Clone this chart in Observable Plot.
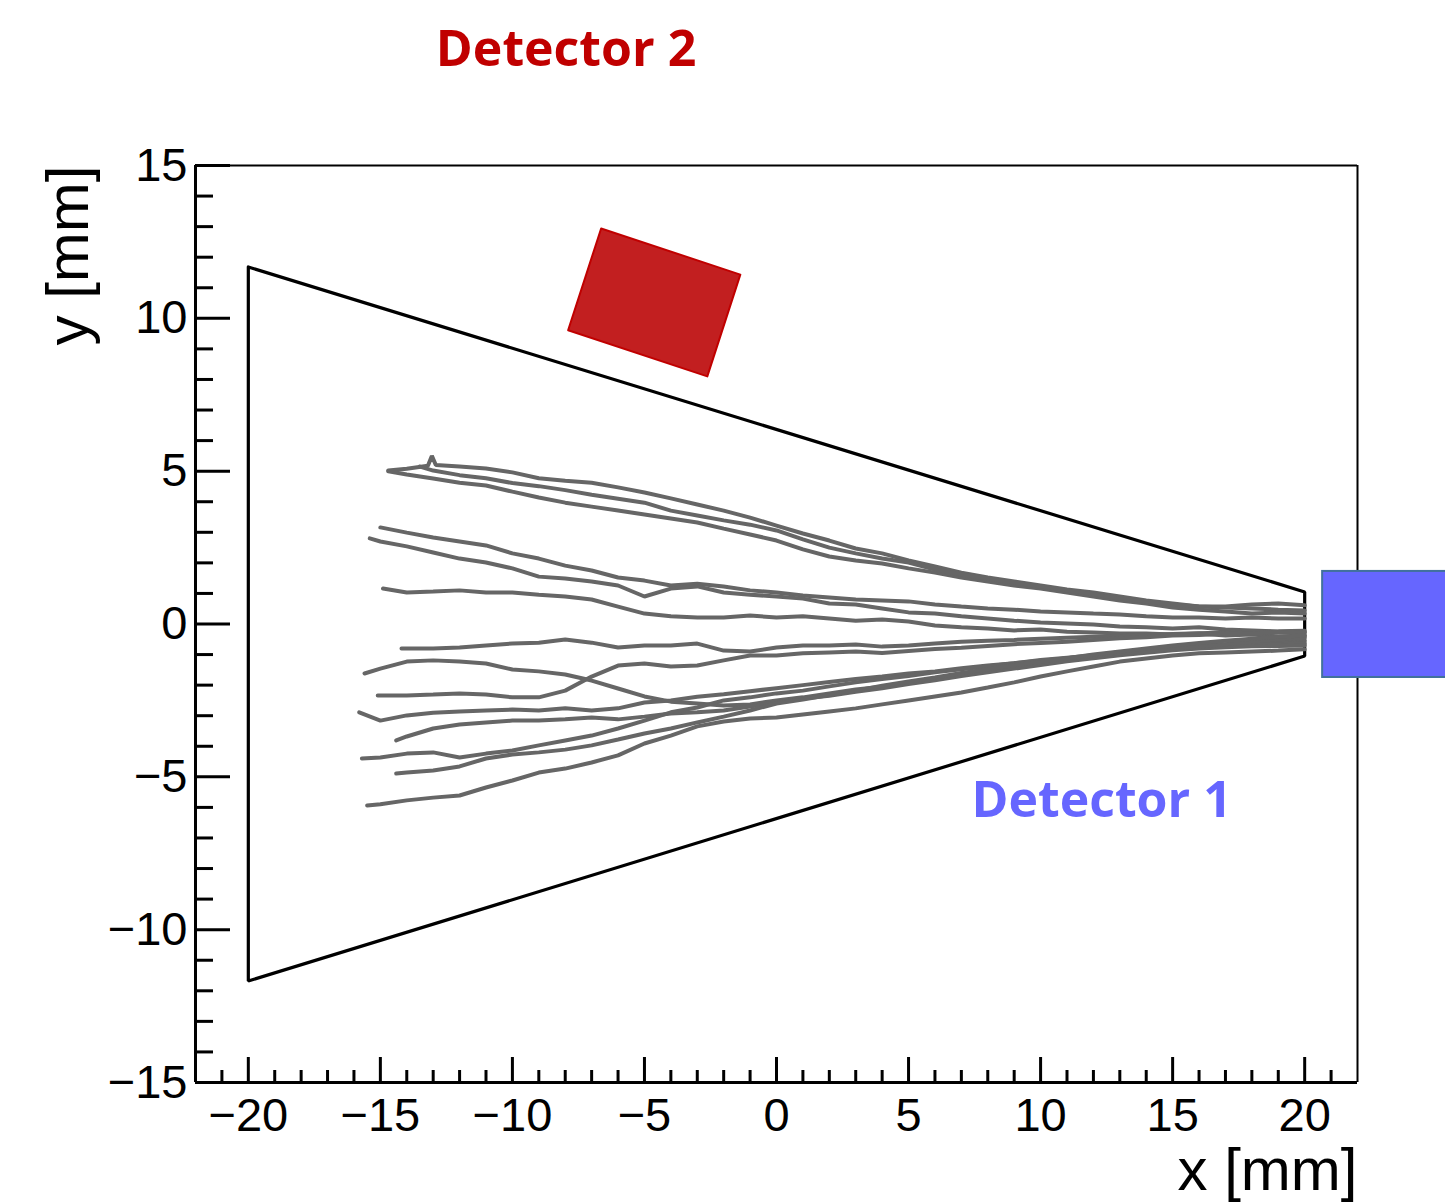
<!DOCTYPE html>
<html>
<head>
<meta charset="utf-8">
<script src="https://cdn.jsdelivr.net/npm/d3@7"></script>
<script src="https://cdn.jsdelivr.net/npm/@observablehq/plot@0.6"></script>
<style>
html, body { margin: 0; padding: 0; background: #ffffff; overflow: hidden; }
#chart svg { display: block; }
</style>
</head>
<body>
<div id="chart"></div>
<script>
// ---- axes ----
const xDomain = [-22, 22];
const yDomain = [-15, 15];
const xMajorTicks = [-20, -15, -10, -5, 0, 5, 10, 15, 20];
const xMinorTicks = [-21, -19, -18, -17, -16, -14, -13, -12, -11, -9, -8, -7, -6, -4, -3, -2, -1,
                     1, 2, 3, 4, 6, 7, 8, 9, 11, 12, 13, 14, 16, 17, 18, 19, 21];
const yMajorTicks = [-15, -10, -5, 0, 5, 10, 15];
const yMinorTicks = [-14, -13, -12, -11, -9, -8, -7, -6, -4, -3, -2, -1,
                     1, 2, 3, 4, 6, 7, 8, 9, 11, 12, 13, 14];
const xTitle = "x [mm]";
const yTitle = "y [mm]";

// ---- geometry (mm) ----
const coneOutline = [[-20, 11.68], [20, 1.05], [20, -1.05], [-20, -11.68], [-20, 11.68]];
const detector2Corners = [[-6.64, 12.94], [-1.37, 11.43], [-2.62, 8.10], [-7.89, 9.61], [-6.64, 12.94]];
const detector1Box = [{x1: 20.68, x2: 26, y1: -1.75, y2: 1.72}];
const annotations = [
  {label: "Detector 2", x: -12.9, y: 18.27, color: "#c00000"},
  {label: "Detector 1", x: 7.38, y: -6.33, color: "#6666ff"}
];

// ---- tracks (x mm, y mm) ----
const trackU1 = [[-14.7,5.02],[-14,5.08],[-13.2,5.18],[-13.05,5.5],[-12.9,5.2],[-12,5.15],[-11,5.09],[-10,4.96],[-9,4.77],[-8,4.69],[-7,4.62],[-6,4.47],[-5,4.30],[-4,4.11],[-3,3.91],[-2,3.71],[-1,3.48],[0,3.22],[1,2.96],[2,2.73],[3,2.47],[4,2.31],[5,2.08],[6,1.88],[7,1.68],[8,1.52],[9,1.39],[10,1.26],[11,1.13],[12,1.03],[13,0.90],[14,0.77],[15,0.67],[16,0.57],[17,0.54],[18,0.51],[19,0.47],[20,0.44]];
const trackU2 = [[-14.7,5.0],[-14,4.89],[-13,4.76],[-12,4.62],[-11,4.53],[-10,4.33],[-9,4.14],[-8,3.97],[-7,3.84],[-6,3.71],[-5,3.58],[-4,3.45],[-3,3.32],[-2,3.12],[-1,2.93],[0,2.73],[1,2.44],[2,2.21],[3,2.08],[4,1.98],[5,1.82],[6,1.68],[7,1.52],[8,1.39],[9,1.26],[10,1.16],[11,1.03],[12,0.90],[13,0.77],[14,0.67],[15,0.54],[16,0.47],[17,0.41],[18,0.34],[19,0.38],[20,0.34]];
const trackU3 = [[-13.5,5.15],[-13,5.02],[-12,4.87],[-11,4.77],[-10,4.61],[-9,4.51],[-8,4.38],[-7,4.23],[-6,4.10],[-5,3.97],[-4,3.71],[-3,3.55],[-2,3.39],[-1,3.25],[0,3.06],[1,2.77],[2,2.50],[3,2.31],[4,2.14],[5,2.01],[6,1.78],[7,1.62],[8,1.49],[9,1.36],[10,1.23],[11,1.10],[12,0.97],[13,0.83],[14,0.74],[15,0.64],[16,0.57],[17,0.57],[18,0.64],[19,0.67],[20,0.61]];
const trackM1 = [[-15,3.16],[-14,2.99],[-13,2.83],[-12,2.70],[-11,2.57],[-10,2.31],[-9,2.14],[-8,1.91],[-7,1.75],[-6,1.52],[-5,1.42],[-4,1.26],[-3,1.32],[-2,1.23],[-1,1.10],[0,1.03],[1,0.93],[2,0.87],[3,0.80],[4,0.77],[5,0.74],[6,0.64],[7,0.57],[8,0.51],[9,0.47],[10,0.41],[11,0.38],[12,0.34],[13,0.31],[14,0.25],[15,0.21],[16,0.21],[17,0.18],[18,0.21],[19,0.18],[20,0.18]];
const trackM2 = [[-15.4,2.80],[-15,2.70],[-14,2.54],[-13,2.34],[-12,2.14],[-11,2.01],[-10,1.82],[-9,1.55],[-8,1.49],[-7,1.39],[-6,1.26],[-5,0.90],[-4,1.16],[-3,1.23],[-2,1.03],[-1,0.96],[0,0.90],[1,0.83],[2,0.67],[3,0.64],[4,0.51],[5,0.38],[6,0.34],[7,0.25],[8,0.18],[9,0.11],[10,0.05],[11,0.02],[12,-0.02],[13,-0.08],[14,-0.11],[15,-0.15],[16,-0.11],[17,-0.18],[18,-0.21],[19,-0.25],[20,-0.28]];
const trackM3 = [[-14.9,1.16],[-14,1.03],[-13,1.06],[-12,1.10],[-11,1.03],[-10,1.03],[-9,0.96],[-8,0.90],[-7,0.80],[-6,0.57],[-5,0.34],[-4,0.25],[-3,0.21],[-2,0.21],[-1,0.28],[0,0.21],[1,0.25],[2,0.18],[3,0.11],[4,0.15],[5,0.08],[6,-0.05],[7,-0.11],[8,-0.15],[9,-0.21],[10,-0.18],[11,-0.25],[12,-0.28],[13,-0.31],[14,-0.31],[15,-0.34],[16,-0.31],[17,-0.38],[18,-0.34],[19,-0.41],[20,-0.38]];
const trackL1 = [[-14.2,-0.80],[-13,-0.80],[-12,-0.77],[-11,-0.70],[-10,-0.64],[-9,-0.61],[-8,-0.51],[-7,-0.61],[-6,-0.77],[-5,-0.70],[-4,-0.70],[-3,-0.64],[-2,-0.87],[-1,-0.90],[0,-0.77],[1,-0.70],[2,-0.70],[3,-0.67],[4,-0.74],[5,-0.70],[6,-0.64],[7,-0.58],[8,-0.55],[9,-0.52],[10,-0.48],[11,-0.45],[12,-0.42],[13,-0.40],[14,-0.36],[15,-0.33],[16,-0.30],[17,-0.28],[18,-0.25],[19,-0.24],[20,-0.22]];
const trackL2 = [[-15.6,-1.62],[-15,-1.46],[-14,-1.23],[-13,-1.19],[-12,-1.23],[-11,-1.29],[-10,-1.49],[-9,-1.55],[-8,-1.65],[-7,-1.85],[-6,-2.11],[-5,-2.37],[-4,-2.54],[-3,-2.60],[-2,-2.67],[-1,-2.63],[0,-2.50],[1,-2.40],[2,-2.27],[3,-2.14],[4,-2.05],[5,-1.93],[6,-1.80],[7,-1.66],[8,-1.52],[9,-1.40],[10,-1.26],[11,-1.15],[12,-1.02],[13,-0.92],[14,-0.84],[15,-0.76],[16,-0.70],[17,-0.66],[18,-0.60],[19,-0.58],[20,-0.55]];
const trackL3 = [[-15.1,-2.34],[-14,-2.34],[-13,-2.31],[-12,-2.27],[-11,-2.31],[-10,-2.40],[-9,-2.40],[-8,-2.18],[-7,-1.72],[-6,-1.36],[-5,-1.29],[-4,-1.39],[-3,-1.36],[-2,-1.19],[-1,-1.03],[0,-1.03],[1,-0.96],[2,-0.93],[3,-0.90],[4,-0.95],[5,-0.88],[6,-0.82],[7,-0.78],[8,-0.72],[9,-0.66],[10,-0.62],[11,-0.58],[12,-0.52],[13,-0.47],[14,-0.43],[15,-0.38],[16,-0.36],[17,-0.32],[18,-0.30],[19,-0.28],[20,-0.26]];
const trackL4 = [[-15.8,-2.89],[-15,-3.16],[-14,-2.99],[-13,-2.90],[-12,-2.86],[-11,-2.83],[-10,-2.80],[-9,-2.83],[-8,-2.76],[-7,-2.83],[-6,-2.76],[-5,-2.57],[-4,-2.50],[-3,-2.38],[-2,-2.30],[-1,-2.20],[0,-2.10],[1,-2.00],[2,-1.90],[3,-1.80],[4,-1.72],[5,-1.62],[6,-1.55],[7,-1.45],[8,-1.36],[9,-1.28],[10,-1.18],[11,-1.10],[12,-1.02],[13,-0.95],[14,-0.88],[15,-0.82],[16,-0.76],[17,-0.72],[18,-0.68],[19,-0.66],[20,-0.64]];
const trackL5 = [[-14.4,-3.81],[-14,-3.68],[-13,-3.42],[-12,-3.29],[-11,-3.22],[-10,-3.16],[-9,-3.16],[-8,-3.12],[-7,-3.06],[-6,-3.12],[-5,-3.03],[-4,-2.93],[-3,-2.89],[-2,-2.83],[-1,-2.70],[0,-2.57],[1,-2.44],[2,-2.35],[3,-2.22],[4,-2.10],[5,-1.96],[6,-1.84],[7,-1.70],[8,-1.58],[9,-1.46],[10,-1.34],[11,-1.22],[12,-1.12],[13,-1.02],[14,-0.94],[15,-0.86],[16,-0.80],[17,-0.76],[18,-0.73],[19,-0.72],[20,-0.70]];
const trackL6 = [[-15.7,-4.40],[-15,-4.37],[-14,-4.24],[-13,-4.20],[-12,-4.37],[-11,-4.24],[-10,-4.14],[-9,-3.97],[-8,-3.81],[-7,-3.65],[-6,-3.42],[-5,-3.16],[-4,-2.89],[-3,-2.73],[-2,-2.50],[-1,-2.40],[0,-2.27],[1,-2.18],[2,-2.04],[3,-1.91],[4,-1.80],[5,-1.70],[6,-1.58],[7,-1.48],[8,-1.38],[9,-1.28],[10,-1.20],[11,-1.12],[12,-1.04],[13,-0.96],[14,-0.90],[15,-0.82],[16,-0.74],[17,-0.66],[18,-0.58],[19,-0.50],[20,-0.45]];
const trackL7 = [[-14.4,-4.89],[-14,-4.86],[-13,-4.79],[-12,-4.66],[-11,-4.40],[-10,-4.27],[-9,-4.20],[-8,-4.11],[-7,-3.97],[-6,-3.78],[-5,-3.58],[-4,-3.42],[-3,-3.22],[-2,-3.03],[-1,-2.83],[0,-2.60],[1,-2.47],[2,-2.32],[3,-2.18],[4,-2.02],[5,-1.88],[6,-1.75],[7,-1.60],[8,-1.48],[9,-1.35],[10,-1.24],[11,-1.12],[12,-1.00],[13,-0.90],[14,-0.80],[15,-0.70],[16,-0.62],[17,-0.55],[18,-0.48],[19,-0.42],[20,-0.38]];
const trackL8 = [[-15.5,-5.94],[-15,-5.90],[-14,-5.77],[-13,-5.68],[-12,-5.61],[-11,-5.35],[-10,-5.12],[-9,-4.86],[-8,-4.73],[-7,-4.53],[-6,-4.30],[-5,-3.91],[-4,-3.65],[-3,-3.35],[-2,-3.19],[-1,-3.09],[0,-3.06],[1,-2.96],[2,-2.86],[3,-2.76],[4,-2.63],[5,-2.50],[6,-2.37],[7,-2.24],[8,-2.08],[9,-1.91],[10,-1.72],[11,-1.55],[12,-1.39],[13,-1.23],[14,-1.13],[15,-1.03],[16,-0.96],[17,-0.93],[18,-0.90],[19,-0.87],[20,-0.83]];

const trackList = [trackU1, trackU2, trackU3, trackM1, trackM2, trackM3,
  trackL1, trackL2, trackL3, trackL4, trackL5, trackL6, trackL7, trackL8];
const trackRows = trackList.flatMap((pts, id) => pts.map(([x, y]) => ({id, x, y})));
const toXY = pts => pts.map(([x, y]) => ({x, y}));

const fmt = d => (d < 0 ? "\u2212" + Math.abs(d) : String(d));
const tickFont = "'Liberation Sans', Arial, Helvetica, sans-serif";

const plot = Plot.plot({
  width: 1445,
  height: 1203,
  marginLeft: 195,
  marginRight: 88,
  marginTop: 165,
  marginBottom: 121,
  x: {domain: xDomain},
  y: {domain: yDomain},
  style: {background: "#ffffff", fontFamily: tickFont, color: "#000"},
  marks: [
    // frame
    Plot.ruleY([yDomain[1]], {stroke: "#000", strokeWidth: 2}),
    Plot.ruleX([xDomain[1]], {stroke: "#000", strokeWidth: 2}),
    Plot.ruleX([xDomain[0]], {stroke: "#000", strokeWidth: 3}),
    Plot.ruleY([yDomain[0]], {stroke: "#000", strokeWidth: 3}),
    // inward ticks
    Plot.axisY({ticks: yMajorTicks, tickSize: -35, strokeWidth: 3, fill: "none", label: null}),
    Plot.axisY({ticks: yMinorTicks, tickSize: -18, strokeWidth: 3, fill: "none", label: null}),
    Plot.axisX({ticks: xMajorTicks, tickSize: -25, strokeWidth: 3, fill: "none", label: null}),
    Plot.axisX({ticks: xMinorTicks, tickSize: -12, strokeWidth: 3, fill: "none", label: null}),
    // tick labels
    Plot.axisY({ticks: yMajorTicks, tickSize: 0, tickPadding: 8, tickFormat: fmt, label: null,
      fontSize: 47, fontFamily: tickFont, fill: "#000"}),
    Plot.axisX({ticks: xMajorTicks, tickSize: 0, tickPadding: 15, tickFormat: fmt, label: null,
      fontSize: 47, fontFamily: tickFont, fill: "#000"}),
    // axis titles
    Plot.text([yTitle], {frameAnchor: "top-left", text: d => d, rotate: -90, textAnchor: "end",
      lineAnchor: "bottom", dx: -108, dy: 0, fontSize: 60, fontFamily: tickFont, fill: "#000"}),
    Plot.text([xTitle], {frameAnchor: "bottom-right", text: d => d, textAnchor: "end",
      lineAnchor: "bottom", dy: 107, fontSize: 60, fontFamily: tickFont, fill: "#000"}),
    // cone
    Plot.line(toXY(coneOutline), {x: "x", y: "y", stroke: "#000", strokeWidth: 3.2, strokeLinejoin: "miter"}),
    // tracks
    Plot.line(trackRows, {x: "x", y: "y", z: "id", stroke: "#666666", strokeWidth: 4, strokeLinejoin: "miter"}),
    // detectors
    Plot.line(toXY(detector2Corners), {x: "x", y: "y", fill: "#c21f20", stroke: "#c00000", strokeWidth: 2}),
    Plot.rect(detector1Box, {x1: "x1", x2: "x2", y1: "y1", y2: "y2", fill: "#6666ff", stroke: "#41719c", strokeWidth: 2}),
    // labels
    Plot.text(annotations, {x: "x", y: "y", text: "label", fill: "color", textAnchor: "start",
      lineAnchor: "bottom", fontSize: 50, fontWeight: 700, fontFamily: "'Open Sans', sans-serif"})
  ]
});
document.getElementById("chart").appendChild(plot);
</script>
</body>
</html>
